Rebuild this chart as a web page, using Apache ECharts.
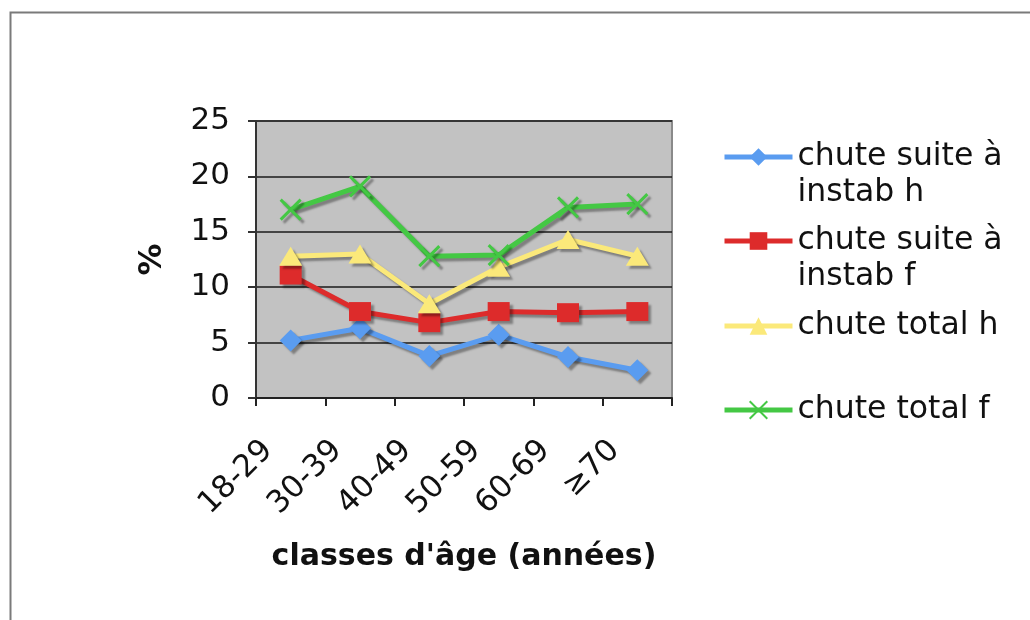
<!DOCTYPE html>
<html>
<head>
<meta charset="utf-8">
<script src="https://cdn.jsdelivr.net/npm/echarts@6/dist/echarts.min.js"></script>
<style>
html,body{margin:0;padding:0;background:#fff;}
#chart{width:1030px;height:620px;}
</style>
</head>
<body>
<div id="chart"></div>
<script>
const categories = ['18-29', '30-39', '40-49', '50-59', '60-69', '≥70'];
const seriesNames = ['chute suite à\ninstab h', 'chute suite à\ninstab f', 'chute total h', 'chute total f'];
const instabH = [5.2, 6.3, 3.8, 5.7, 3.7, 2.5];
const instabF = [11.1, 7.8, 6.8, 7.8, 7.7, 7.8];
const totalH = [12.8, 13.0, 8.5, 11.8, 14.3, 12.8];
const totalF = [17.0, 19.1, 12.8, 12.9, 17.2, 17.5];
const yTicks = { min: 0, max: 25, interval: 5 };

const FONT = 'DejaVu Sans';
const colors = ['#5a9cf0', '#dd2b2b', '#fbe97a', '#44c844'];
const symbols = ['diamond', 'rect', 'triangle', 'path://M0,0L10,10M10,0L0,10'];
const sizes = [[22, 22], [22, 19], [23, 19], [20, 20]];
const dataSets = [instabH, instabF, totalH, totalF];

const chart = echarts.init(document.getElementById('chart'));

const series = dataSets.map((d, i) => ({
  name: seriesNames[i],
  type: 'line',
  data: d,
  symbol: symbols[i],
  symbolSize: sizes[i],
  showAllSymbol: true,
  z: 2 + i,
  lineStyle: {
    color: colors[i], width: 5,
    shadowColor: 'rgba(0,0,0,0.35)', shadowBlur: 2, shadowOffsetX: 3, shadowOffsetY: 3
  },
  itemStyle: i === 3 ? {
    color: 'rgba(0,0,0,0)', borderColor: colors[i], borderWidth: 3,
    shadowColor: 'rgba(0,0,0,0.35)', shadowBlur: 2, shadowOffsetX: 3, shadowOffsetY: 3
  } : {
    color: colors[i], borderWidth: 0,
    shadowColor: 'rgba(0,0,0,0.35)', shadowBlur: 2, shadowOffsetX: 3, shadowOffsetY: 3
  },
  emphasis: { disabled: true },
  animation: false
}));

const legendCenters = [157, 241, 326, 410];
const LH = 36;
const legends = seriesNames.map((n, i) => {
  const multi = n.indexOf('\n') >= 0;
  return {
    data: [n],
    left: 722,
    top: legendCenters[i] - (multi ? 1.5 * LH : 0.5 * LH),
    padding: 0,
    itemWidth: 68,
    itemHeight: 22,
    selectedMode: false,
    formatter: name => (name.indexOf('\n') >= 0 ? ' \n' + name : name),
    itemStyle: { shadowBlur: 0, shadowOffsetX: 0, shadowOffsetY: 0, shadowColor: 'transparent' },
    lineStyle: { width: 5, shadowBlur: 0, shadowOffsetX: 0, shadowOffsetY: 0, shadowColor: 'transparent' },
    textStyle: { fontFamily: FONT, fontSize: 31.5, color: '#111', lineHeight: LH }
  };
});

chart.setOption({
  animation: false,
  backgroundColor: '#fff',
  color: colors,
  graphic: [{
    type: 'rect', left: 8, top: 10, z: -10,
    shape: { x: 0, y: 0, width: 1100, height: 700 },
    style: { fill: 'none', stroke: '#7a7a7a', lineWidth: 2 }
  }],
  grid: {
    left: 256, top: 121, width: 416, height: 277,
    show: true, backgroundColor: '#c2c2c2', borderColor: '#8a8a8a', borderWidth: 2
  },
  legend: legends,
  xAxis: {
    type: 'category',
    data: categories,
    boundaryGap: true,
    name: "classes d'âge (années)",
    nameLocation: 'middle',
    nameGap: 144,
    nameTextStyle: { fontFamily: FONT, fontSize: 30, fontWeight: 'bold', color: '#111' },
    axisLine: { lineStyle: { color: '#222', width: 2 } },
    axisTick: { show: true, interval: 0, alignWithLabel: false, length: 8, lineStyle: { color: '#222', width: 2 } },
    axisLabel: {
      rotate: 45, interval: 0, margin: 25, padding: [0, 32, 0, 0],
      fontFamily: FONT, fontSize: 31, color: '#111'
    },
    splitLine: { show: false }
  },
  yAxis: {
    type: 'value',
    min: yTicks.min, max: yTicks.max, interval: yTicks.interval,
    name: '%',
    nameLocation: 'middle',
    nameRotate: 90,
    nameGap: 87,
    nameTextStyle: { fontFamily: FONT, fontSize: 32, fontWeight: 'bold', color: '#111' },
    axisLine: { show: true, lineStyle: { color: '#333', width: 2 } },
    axisTick: { show: true, length: 8, lineStyle: { color: '#333', width: 2 } },
    axisLabel: { margin: 26, fontFamily: FONT, fontSize: 31, color: '#111' },
    splitLine: { show: true, lineStyle: { color: '#1a1a1a', width: 1.5 } }
  },
  series: series
});
</script>
</body>
</html>
